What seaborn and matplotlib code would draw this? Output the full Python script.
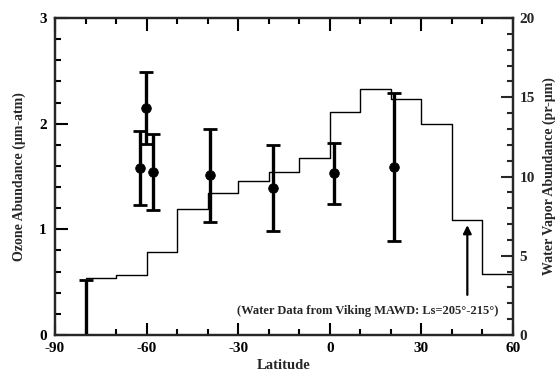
import matplotlib.pyplot as plt
import matplotlib.ticker as mticker
import numpy as np
import pandas as pd
import seaborn as sns

# ozone measurements (left axis)
ozone_lat = [-62.2, -60.2, -58.0, -39.2, -18.7, 1.5, 21.1]
ozone_val = [1.58, 2.15, 1.54, 1.51, 1.39, 1.53, 1.59]
ozone_err = [0.35, 0.34, 0.36, 0.44, 0.41, 0.29, 0.70]
# upper limit at the southern end, drawn from zero
limit_lat = [-80.0]
limit_val = [0.52]

# Viking MAWD water vapor, 10 degree bins (right axis)
water_edges = [-80, -70, -60, -50, -40, -30, -20, -10, 0, 10, 20, 30, 40, 50, 60]
water_val = [3.57, 3.78, 5.25, 7.93, 8.94, 9.71, 10.3, 11.15, 14.09, 15.5, 14.87, 13.3, 7.25, 3.85]

x_ticks = [-90, -60, -30, 0, 30, 60]
ozone_ticks = [0, 1, 2, 3]
water_ticks = [0, 5, 10, 15, 20]

sns.set_theme(style="ticks", context="paper")
plt.rcParams["font.family"] = ["Liberation Serif", "DejaVu Serif"]
plt.rcParams["font.weight"] = "bold"
plt.rcParams["axes.unicode_minus"] = False

fig = plt.figure(figsize=(5.58, 3.76), dpi=100)
ax = fig.add_axes([0.0986, 0.109, 0.8204, 0.843])
ax2 = ax.twinx()

water = pd.DataFrame({"lat": water_edges, "w": water_val + [water_val[-1]]})
sns.lineplot(data=water, x="lat", y="w", ax=ax2, drawstyle="steps-post",
             color="black", linewidth=1.0, legend=False)

ax.errorbar(ozone_lat, ozone_val, yerr=ozone_err, fmt="none", ecolor="black",
            elinewidth=2.4, capsize=4.8, capthick=2.0, zorder=3)
sns.scatterplot(x=ozone_lat, y=ozone_val, ax=ax, color="black", s=48,
                edgecolor="black", zorder=4)
ax.errorbar(limit_lat, [0.0], yerr=[[0.0], limit_val], fmt="none", ecolor="black",
            elinewidth=2.4, capsize=4.8, capthick=2.0, zorder=3)

ax.set_xlim(-90, 60)
ax.set_ylim(0, 3)
ax2.set_ylim(0, 20)
ax.set_xticks(x_ticks)
ax.set_yticks(ozone_ticks)
ax2.set_yticks(water_ticks)
ax.xaxis.set_minor_locator(mticker.MultipleLocator(10))
ax.yaxis.set_minor_locator(mticker.MultipleLocator(0.2))
ax2.yaxis.set_minor_locator(mticker.MultipleLocator(1))

ax.tick_params(which="both", direction="in", top=True, right=False, width=1.5,
               labelsize=11, colors="black")
ax.tick_params(which="major", length=9)
ax.tick_params(which="minor", length=4.5)
ax.tick_params(axis="y", pad=6)
ax.tick_params(axis="x", pad=5)
ax2.tick_params(which="both", direction="in", width=1.5, labelsize=11, pad=5)
ax2.tick_params(which="major", length=9)
ax2.tick_params(which="minor", length=4.5)

for a in (ax, ax2):
    for sp in a.spines.values():
        sp.set_linewidth(1.6)
        sp.set_visible(True)
    for lab in a.get_xticklabels() + a.get_yticklabels():
        lab.set_fontweight("bold")

ax.set_xlabel("Latitude", fontsize=10.5, fontweight="bold", labelpad=3)
ax.set_ylabel("Ozone Abundance (\u03bcm-atm)", fontsize=10, fontweight="bold", labelpad=9)
ax2.set_ylabel("Water Vapor Abundance (pr-\u03bcm)", fontsize=10, fontweight="bold",
               labelpad=5)

ax.annotate("", xy=(45.1, 1.04), xytext=(45.1, 0.38),
            arrowprops=dict(arrowstyle="-|>", color="black", lw=1.6,
                            mutation_scale=12, shrinkA=0, shrinkB=0))
ax.text(12.4, 0.227, "(Water Data from Viking MAWD: Ls=205\u00b0-215\u00b0)",
        ha="center", va="center", fontsize=9, fontweight="bold")

fig.savefig("out.png", dpi=100)
